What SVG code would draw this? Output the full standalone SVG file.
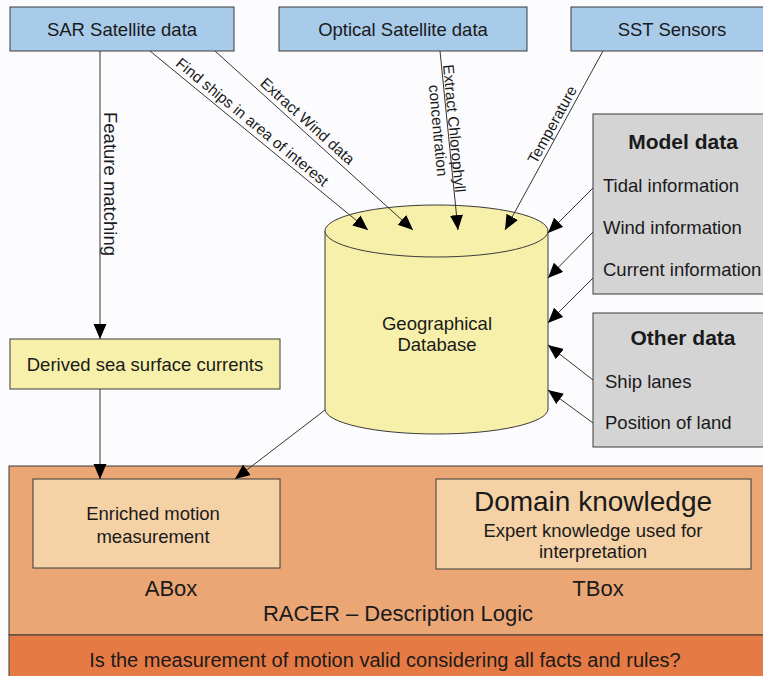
<svg xmlns="http://www.w3.org/2000/svg" width="763" height="676" viewBox="0 0 763 676">
<defs>
<marker id="ah" markerUnits="userSpaceOnUse" markerWidth="16" markerHeight="14" refX="15" refY="6.5" orient="auto">
<path d="M0,0 L15,6.5 L0,13 Z" fill="#000"/>
</marker>
<style>
text{font-family:"Liberation Sans",Arial,sans-serif;fill:#1a1a1a}
.blue{fill:#a8cbea;stroke:#3a3a3a;stroke-width:1}
.gray{fill:#d4d4d4;stroke:#3a3a3a;stroke-width:1}
.yel{fill:#f7f0aa;stroke:#3a3a3a;stroke-width:1}
.lo{fill:#f5d1a6;stroke:#3a3a3a;stroke-width:1}
.t18{font-size:18.5px}
.lab{font-size:15.3px}
.c{text-anchor:middle}
.conn line{stroke:#333;stroke-width:1;marker-end:url(#ah)}
</style>
</defs>
<rect width="763" height="676" fill="#fcfcfe"/>

<g id="racer">
<rect x="9" y="466" width="760" height="169" fill="#eba676" stroke="#3a3a3a" stroke-width="1"/>
<text x="171" y="596" class="c" font-size="22">ABox</text>
<text x="598" y="596" class="c" font-size="22">TBox</text>
<text x="398" y="621" class="c" font-size="22">RACER – Description Logic</text>
</g>
<g id="question">
<rect x="9" y="635" width="760" height="45" fill="#e67a44" stroke="#3a3a3a" stroke-width="1"/>
<text x="385" y="667" class="c" font-size="20">Is the measurement of motion valid considering all facts and rules?</text>
</g>
<g id="enriched">
<rect x="33" y="479" width="247" height="89" class="lo"/>
<text x="153" y="520" class="c t18">Enriched motion</text>
<text x="153" y="543" class="c t18">measurement</text>
</g>
<g id="domain">
<rect x="436" y="479" width="315" height="90" class="lo"/>
<text x="593" y="511" class="c" font-size="28">Domain knowledge</text>
<text x="593" y="537" class="c t18">Expert knowledge used for</text>
<text x="593" y="558" class="c t18">interpretation</text>
</g>

<g id="sar">
<rect x="10" y="7" width="224" height="44" class="blue"/>
<text x="122" y="36" class="c t18">SAR Satellite data</text>
</g>
<g id="optical">
<rect x="279" y="7" width="248" height="44" class="blue"/>
<text x="403" y="36" class="c t18">Optical Satellite data</text>
</g>
<g id="sst">
<rect x="571" y="7" width="200" height="44" class="blue"/>
<text x="672" y="36" class="c t18">SST Sensors</text>
</g>

<g id="derived">
<rect x="10" y="339" width="270" height="50" class="yel"/>
<text x="145" y="371" class="c t18">Derived sea surface currents</text>
</g>

<g id="database">
<path d="M325,231 L325,409 A111.5,25 0 0 0 548,409 L548,231 Z" class="yel"/>
<ellipse cx="436.5" cy="231" rx="111.5" ry="26" class="yel"/>
<text x="437" y="330" class="c t18">Geographical</text>
<text x="437" y="351" class="c t18">Database</text>
</g>

<g id="model">
<rect x="593" y="114" width="178" height="180" class="gray"/>
<text x="683" y="149" class="c" font-size="21" font-weight="bold">Model data</text>
<text x="603" y="192" class="t18">Tidal information</text>
<text x="603" y="234" class="t18">Wind information</text>
<text x="603" y="276" class="t18">Current information</text>
</g>
<g id="other">
<rect x="593" y="313" width="178" height="134" class="gray"/>
<text x="683" y="345" class="c" font-size="21" font-weight="bold">Other data</text>
<text x="605" y="388" class="t18">Ship lanes</text>
<text x="605" y="429" class="t18">Position of land</text>
</g>

<g class="conn" id="connectors">
<line x1="100" y1="51" x2="100" y2="339"/>
<line x1="100" y1="389" x2="100" y2="479"/>
<line x1="150" y1="51" x2="368" y2="230"/>
<line x1="215" y1="51" x2="413" y2="230"/>
<line x1="440" y1="51" x2="458" y2="230"/>
<line x1="603" y1="51" x2="505" y2="230"/>
<line x1="593" y1="188" x2="548" y2="233"/>
<line x1="593" y1="232" x2="548" y2="278"/>
<line x1="593" y1="278" x2="548" y2="323"/>
<line x1="593" y1="380" x2="548" y2="345"/>
<line x1="593" y1="423" x2="548" y2="390"/>
<line x1="325" y1="410" x2="235" y2="479"/>
</g>

<g id="labels">
<text transform="translate(104,184) rotate(90)" class="c" font-size="18.5">Feature matching</text>
<text transform="translate(249,126) rotate(39.5)" class="c lab">Find ships in area of interest</text>
<text transform="translate(304,125) rotate(42.1)" class="c lab">Extract Wind data</text>
<text transform="translate(449,129) rotate(84.6)" class="c lab">Extract Chlorophyll</text>
<text transform="translate(433,131) rotate(84.6)" class="c lab">concentration</text>
<text transform="translate(556.8,127.2) rotate(-61.3)" class="c lab">Temperature</text>
</g>
</svg>
